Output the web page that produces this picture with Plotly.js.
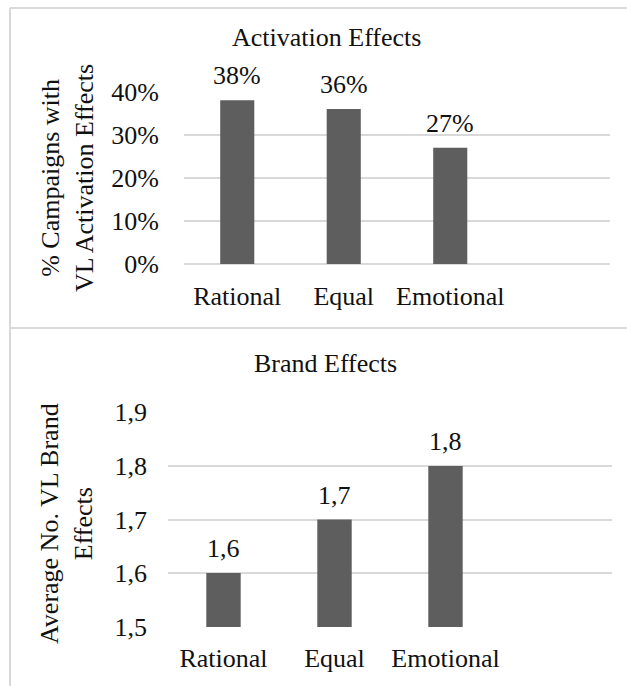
<!DOCTYPE html>
<html>
<head>
<meta charset="utf-8">
<script src="https://cdn.plot.ly/plotly-3.0.1.min.js"></script>
<style>html,body{margin:0;padding:0;background:#fff;}#chart{width:627px;height:686px;}</style>
</head>
<body>
<div id="chart"></div>
<script>
// Data
const categories = ["Rational", "Equal", "Emotional"];
const activationValues = [0.38, 0.36, 0.27];
const brandValues = [1.6, 1.7, 1.8];
const activationTicks = [0, 0.1, 0.2, 0.3, 0.4];
const brandTicks = [1.5, 1.6, 1.7, 1.8, 1.9];

const W = 627, H = 686;
const px = v => v / W;
const py = v => 1 - v / H;

const FONT = "Liberation Serif";
const TXT = "#111";
const GRID = "#d9d9d9";
const BAR = "#5e5e5e";
const FS = 26;

const traces = [
  {type: "bar", x: categories, y: activationValues, xaxis: "x", yaxis: "y",
   marker: {color: BAR}, width: 0.32, hoverinfo: "none"},
  {type: "bar", x: categories, y: brandValues, xaxis: "x2", yaxis: "y2",
   marker: {color: BAR}, width: 0.31, base: 0, hoverinfo: "none"}
];

const lblFont = {family: FONT, size: FS, color: TXT};
const annotations = [];
categories.forEach((c, i) => {
  annotations.push({x: c, y: activationValues[i], xref: "x", yref: "y",
    text: Math.round(activationValues[i] * 100) + "%", showarrow: false,
    yanchor: "bottom", yshift: 8, font: lblFont});
  annotations.push({x: c, y: brandValues[i], xref: "x2", yref: "y2",
    text: brandValues[i].toFixed(1).replace(".", ","), showarrow: false,
    yanchor: "bottom", yshift: 8, font: lblFont});
});
annotations.push({x: px(326), y: py(37), xref: "paper", yref: "paper", text: "Activation Effects",
  showarrow: false, xanchor: "center", yanchor: "middle", font: lblFont});
annotations.push({x: px(325), y: py(363), xref: "paper", yref: "paper", text: "Brand Effects",
  showarrow: false, xanchor: "center", yanchor: "middle", font: lblFont});
annotations.push({x: px(67), y: py(178), xref: "paper", yref: "paper", text: "% Campaigns with<br>VL Activation Effects",
  textangle: -90, showarrow: false, xanchor: "center", yanchor: "middle", font: lblFont});
annotations.push({x: px(66), y: py(524), xref: "paper", yref: "paper", text: "Average No. VL Brand<br>Effects",
  textangle: -90, showarrow: false, xanchor: "center", yanchor: "middle", font: lblFont});

const axisFont = {family: FONT, size: FS, color: TXT};
const layout = {
  width: W, height: H,
  margin: {l: 0, r: 0, t: 0, b: 0},
  paper_bgcolor: "#fff", plot_bgcolor: "#fff",
  separators: ",.",
  showlegend: false,
  font: {family: FONT, color: TXT},
  xaxis: {domain: [px(184), px(610)], range: [-0.5, 3.5], type: "category", showgrid: false,
    showline: false, ticks: "", tickfont: axisFont, ticklabelstandoff: 14, anchor: "y", fixedrange: true},
  yaxis: {domain: [py(264), py(91.7)], range: [0, 0.4], tickvals: activationTicks, tickformat: ".0%",
    showgrid: true, gridcolor: GRID, gridwidth: 2, zeroline: true, zerolinecolor: GRID, zerolinewidth: 2,
    showline: false, ticks: "", tickfont: axisFont, ticklabelstandoff: 24, anchor: "x", fixedrange: true},
  xaxis2: {domain: [px(168), px(612)], range: [-0.5, 3.5], type: "category", showgrid: false,
    showline: false, ticks: "", tickfont: axisFont, ticklabelstandoff: 13, anchor: "y2", fixedrange: true},
  yaxis2: {domain: [py(627), py(412)], range: [1.4995, 1.9005], tickvals: brandTicks, tickformat: ".1f",
    showgrid: true, gridcolor: GRID, gridwidth: 2, zeroline: false,
    showline: false, ticks: "", tickfont: axisFont, ticklabelstandoff: 20, anchor: "x2", fixedrange: true},
  annotations: annotations,
  shapes: [
    {type: "line", xref: "paper", yref: "paper", x0: px(10), x1: 1, y0: py(8), y1: py(8), line: {color: GRID, width: 2}},
    {type: "line", xref: "paper", yref: "paper", x0: px(10), x1: px(10), y0: py(8), y1: 0, line: {color: GRID, width: 2}},
    {type: "line", xref: "paper", yref: "paper", x0: px(10), x1: 1, y0: py(328), y1: py(328), line: {color: GRID, width: 2}}
  ]
};

Plotly.newPlot("chart", traces, layout, {displayModeBar: false, staticPlot: true});
</script>
</body>
</html>
